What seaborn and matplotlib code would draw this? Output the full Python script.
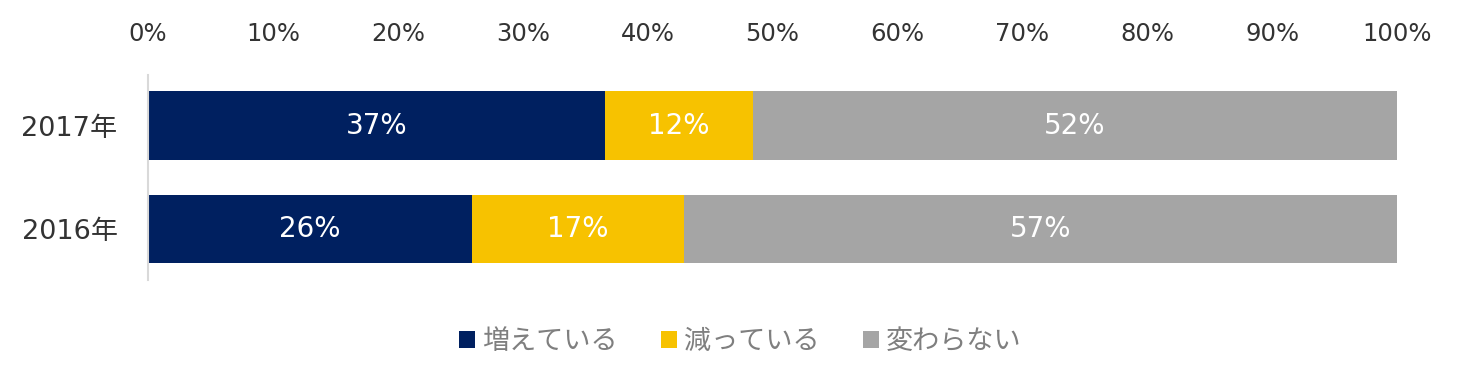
import matplotlib
matplotlib.use("Agg")
import matplotlib.pyplot as plt
from matplotlib.patches import Patch
import numpy as np
import pandas as pd
import seaborn as sns

years = ["2017年", "2016年"]
series_names = ["増えている", "減っている", "変わらない"]
increase = [36.6, 25.9]
decrease = [11.8, 17.0]
same = [51.6, 57.1]
colors = ["#002060", "#F7C200", "#A5A5A5"]
xticks = [0, 10, 20, 30, 40, 50, 60, 70, 80, 90, 100]

sns.set_theme(style="white")
plt.rcParams["font.family"] = ["DejaVu Sans", "Noto Sans CJK JP"]

fig = plt.figure(figsize=(14.66, 3.92), dpi=100)
ax = fig.add_axes([0.101, 0.286, 0.852, 0.523])

vals = np.array([increase, decrease, same])
cum = np.cumsum(vals, axis=0)
lefts = cum - vals

# draw from the largest cumulative to smallest so segments overlay
for i in [2, 1, 0]:
    df = pd.DataFrame({"year": years, "v": cum[i]})
    sns.barplot(data=df, x="v", y="year", orient="h", color=colors[i],
                width=0.66, saturation=1, ax=ax, edgecolor="none", linewidth=0)

for i in range(3):
    for j, y in enumerate(years):
        ax.text(lefts[i][j] + vals[i][j] / 2, j, f"{vals[i][j]:.0f}%",
                ha="center", va="center", color="white", fontsize=20)

ax.set_xlim(0, 100)
ax.set_ylim(1.49, -0.49)
ax.set_xticks(xticks)
ax.set_xticklabels([f"{t}%" for t in xticks])
ax.xaxis.tick_top()
ax.tick_params(axis="x", length=0, pad=21, labelsize=17.5, labelcolor="#333333")
ax.tick_params(axis="y", length=0, pad=22, labelsize=19.5, labelcolor="#333333")
ax.set_xlabel("")
ax.set_ylabel("")
for s in ["top", "right", "bottom"]:
    ax.spines[s].set_visible(False)
ax.spines["left"].set_color("#D9D9D9")
ax.spines["left"].set_linewidth(1.5)

handles = [Patch(facecolor=c, edgecolor="none") for c in colors]
fig.legend(handles, series_names, loc="center", bbox_to_anchor=(0.505, 0.127),
           ncol=3, frameon=False, fontsize=19.5, labelcolor="#7F7F7F",
           handlelength=0.6, handleheight=0.6, handletextpad=0.25, columnspacing=1.6)

fig.savefig("out.png", dpi=100)
